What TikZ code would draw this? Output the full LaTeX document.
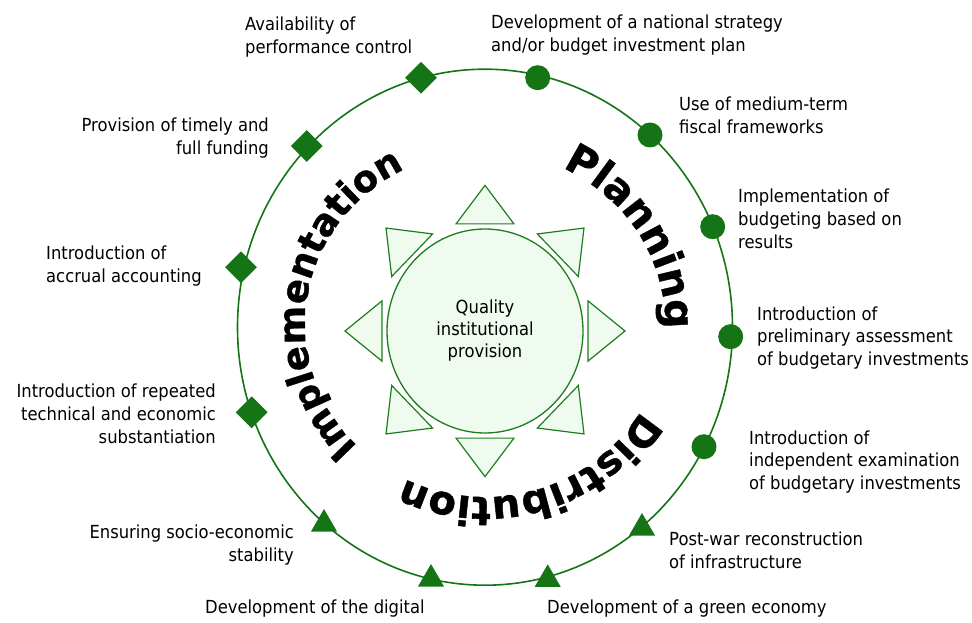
\documentclass[tikz,border=0pt]{standalone}
\usepackage{fontspec}
\usepackage{tikz}
\usetikzlibrary{shapes,decorations.text}
\setmainfont{DejaVu Sans}
\newfontfamily\itemfont{DejaVu Sans}[FakeStretch=0.91]
\newfontfamily\phasefont{DejaVu Sans Bold}[FakeBold=1]
\definecolor{markgreen}{RGB}{21,116,21}
\definecolor{linegreen}{RGB}{30,125,30}
\definecolor{softgreen}{RGB}{238,251,238}

\begin{document}
\begin{tikzpicture}[
    x=1pt, y=1pt,
    itemtext/.style={font={\itemfont\fontsize{18}{22.8}\selectfont}, inner sep=0pt},
    leftitem/.style={itemtext, align=left, anchor=west},
    rightitem/.style={itemtext, align=right, anchor=east},
    core/.style={ellipse, draw=linegreen, fill=softgreen, line width=1.3pt, minimum width=196pt, minimum height=204pt, align=center, font={\itemfont\fontsize{18}{22}\selectfont}},
    ray/.style={draw=linegreen, fill=softgreen, line width=1.2pt},
    ring/.style={draw=markgreen, line width=1.6pt},
    diamondmark/.style={diamond, fill=markgreen, inner sep=0pt, minimum size=32pt},
    dotmark/.style={circle, fill=markgreen, inner sep=0pt, minimum size=25pt},
    trimark/.style={regular polygon, regular polygon sides=3, fill=markgreen, inner sep=0pt, minimum size=30pt},
    phase/.style 2 args={decorate, decoration={text along path, text align=center, text={|\phasefont\fontsize{#1}{#1}\selectfont|#2}}}
]
\useasboundingbox (0,0) rectangle (972,622);
% Outer ring
\draw[ring] (485,294.8) ellipse [x radius=247.5, y radius=258];
% Core
\node[core] (core) at (485,291) {Quality\\institutional\\provision};
\begin{scope}[shift={(485,291)}, yscale=1.04]
\draw[ray] (0:140) -- (15.7:107) -- (-15.7:107) -- cycle;
\draw[ray] (45:140) -- (60.7:107) -- (29.3:107) -- cycle;
\draw[ray] (90:140) -- (105.7:107) -- (74.3:107) -- cycle;
\draw[ray] (135:140) -- (150.7:107) -- (119.3:107) -- cycle;
\draw[ray] (180:140) -- (195.7:107) -- (164.3:107) -- cycle;
\draw[ray] (225:140) -- (240.7:107) -- (209.3:107) -- cycle;
\draw[ray] (270:140) -- (285.7:107) -- (254.3:107) -- cycle;
\draw[ray] (315:140) -- (330.7:107) -- (299.3:107) -- cycle;
\end{scope}
% Phase names
\path[phase={41}{Planning}] ([shift={(485,298)}]91:180 and 173) arc[start angle=91, end angle=-29, x radius=180, y radius=173];
\path[phase={37}{Implementation}] ([shift={(485,298)}]240.8:180 and 173) arc[start angle=240.8, end angle=100.8, x radius=180, y radius=173];
\path[phase={40}{Distribution}] ([shift={(485,298)}]-3:180 and 173) arc[start angle=-3, end angle=-143, x radius=180, y radius=173];
% Planning items
\node[dotmark] (strategy_mark) at (537.7,544.3) {};
\node[dotmark] (fiscal_mark) at (650,487) {};
\node[dotmark] (results_mark) at (712.7,395.3) {};
\node[dotmark] (assessment_mark) at (730.7,285.3) {};
\node[dotmark] (examination_mark) at (704,175.3) {};
\node[leftitem] (strategy_text) at (491,587) {Development of a national strategy\\and/or budget investment plan};
\node[leftitem] (fiscal_text) at (679,507) {Use of medium-term\\fiscal frameworks};
\node[leftitem] (results_text) at (738,403) {Implementation of\\budgeting based on\\results};
\node[leftitem] (assessment_text) at (757,284) {Introduction of\\preliminary assessment\\of budgetary investments};
\node[leftitem] (examination_text) at (749,160) {Introduction of\\independent examination\\of budgetary investments};
% Distribution items
\node[trimark] (postwar_mark) at (642,94) {};
\node[trimark] (green_mark) at (547.7,42.7) {};
\node[trimark] (digital_mark) at (431,43) {};
\node[trimark] (stability_mark) at (324,98) {};
\node[leftitem] (postwar_text) at (669,72) {Post-war reconstruction\\of infrastructure};
\node[leftitem] (green_text) at (547,13) {Development of a green economy};
\node[leftitem] (digital_text) at (205,13) {Development of the digital};
\node[rightitem] (stability_text) at (294,77) {Ensuring socio-economic\\stability};
% Implementation items
\node[diamondmark] (repeated_mark) at (251.7,209.7) {};
\node[diamondmark] (accrual_mark) at (241,354.7) {};
\node[diamondmark] (funding_mark) at (306.7,476) {};
\node[diamondmark] (avail_mark) at (421,544.3) {};
\node[rightitem] (repeated_text) at (216,208) {Introduction of repeated\\technical and economic\\substantiation};
\node[leftitem] (accrual_text) at (46,356) {Introduction of\\accrual accounting};
\node[rightitem] (funding_text) at (269,484) {Provision of timely and\\full funding};
\node[leftitem] (avail_text) at (245,585) {Availability of\\performance control};
\end{tikzpicture}
\end{document}
